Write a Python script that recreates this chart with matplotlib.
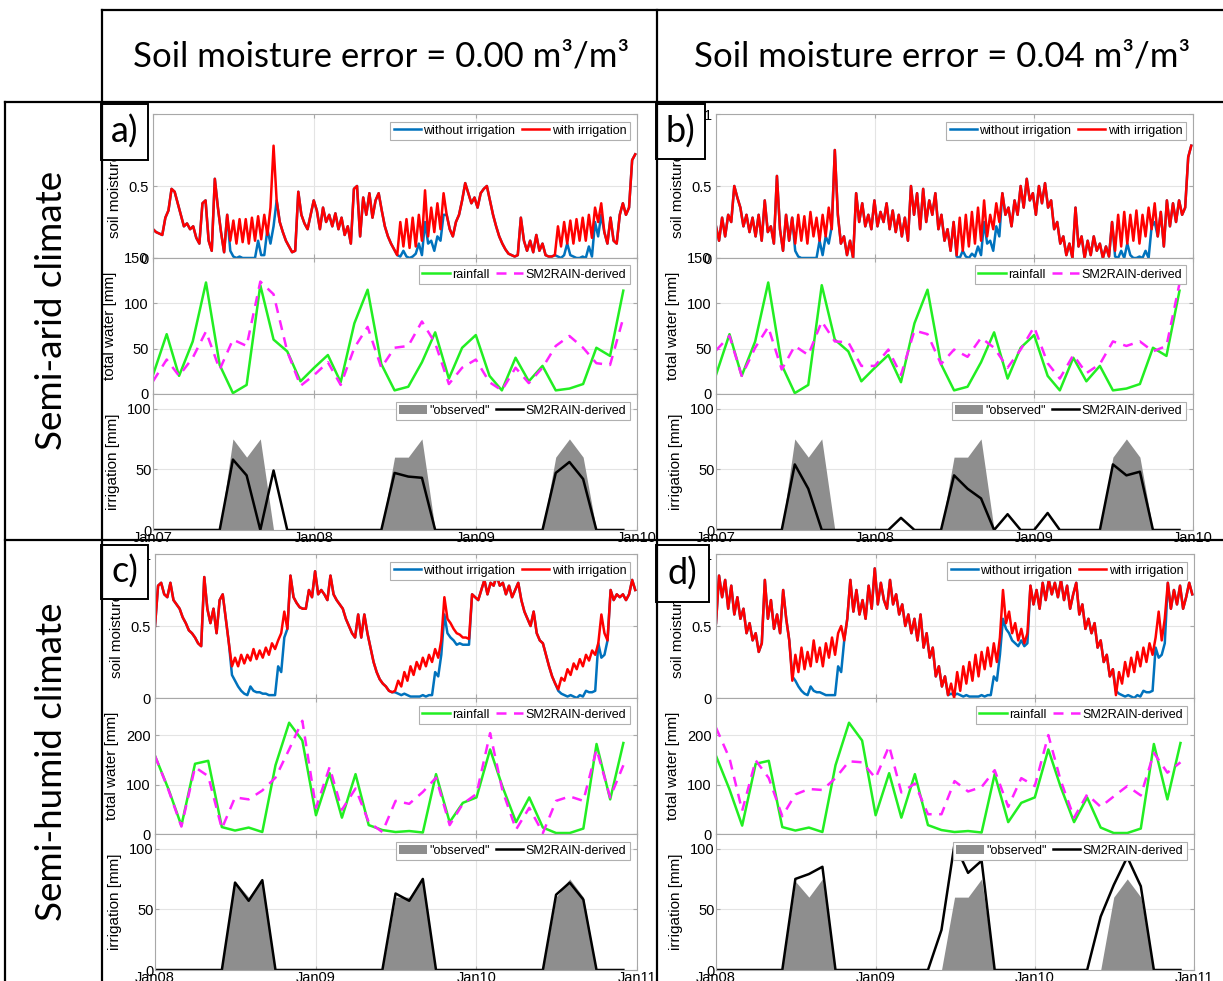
import matplotlib
matplotlib.use('Agg')
import matplotlib.pyplot as plt
import matplotlib.dates as mdates
from matplotlib.lines import Line2D
from matplotlib.patches import Patch, Rectangle
import numpy as np
import pandas as pd

plt.rcParams['font.family'] = ['Liberation Sans', 'DejaVu Sans']

W, H = 1223, 981

# time axes
weeks_arid = pd.date_range('2007-01-01', periods=157, freq='7D')
weeks_humid = pd.date_range('2008-01-01', periods=157, freq='7D')
months_arid = pd.date_range('2007-01-01', periods=36, freq='MS')
months_humid = pd.date_range('2008-01-01', periods=36, freq='MS')

col_titles = ['Soil moisture error = 0.00 m³/m³', 'Soil moisture error = 0.04 m³/m³']
row_titles = ['Semi-arid climate', 'Semi-humid climate']
panel_labels = ['a)', 'b)', 'c)', 'd)']

# soil moisture, weekly values
sm_a_with = np.array([
    0.20, 0.18, 0.17, 0.16, 0.28, 0.33, 0.48, 0.46, 0.38, 0.30, 0.22, 0.24, 0.20,
    0.22, 0.14, 0.10, 0.38, 0.40, 0.12, 0.05, 0.55, 0.35, 0.18, 0.04, 0.30, 0.12,
    0.26, 0.10, 0.27, 0.11, 0.27, 0.10, 0.28, 0.12, 0.29, 0.13, 0.30, 0.16, 0.35,
    0.78, 0.40, 0.25, 0.18, 0.12, 0.08, 0.04, 0.05, 0.46, 0.30, 0.24, 0.20, 0.30,
    0.40, 0.33, 0.20, 0.35, 0.25, 0.30, 0.22, 0.31, 0.20, 0.28, 0.16, 0.22, 0.10,
    0.48, 0.50, 0.15, 0.42, 0.30, 0.45, 0.28, 0.40, 0.45, 0.33, 0.22, 0.15, 0.10,
    0.06, 0.02, 0.25, 0.08, 0.27, 0.07, 0.28, 0.08, 0.30, 0.12, 0.47, 0.15, 0.35,
    0.18, 0.38, 0.20, 0.45, 0.30, 0.20, 0.15, 0.25, 0.30, 0.40, 0.52, 0.45, 0.38,
    0.42, 0.35, 0.45, 0.48, 0.50, 0.40, 0.30, 0.22, 0.15, 0.10, 0.06, 0.03, 0.02,
    0.01, 0.02, 0.28, 0.12, 0.05, 0.12, 0.04, 0.16, 0.05, 0.10, 0.02, 0.01, 0.01,
    0.02, 0.22, 0.08, 0.25, 0.10, 0.26, 0.10, 0.27, 0.12, 0.28, 0.12, 0.30, 0.14,
    0.35, 0.25, 0.38, 0.18, 0.10, 0.28, 0.12, 0.10, 0.30, 0.38, 0.30, 0.35, 0.68,
    0.72])
sm_a_without = sm_a_with.copy()
sm_a_without[25:40] = [0.05, 0.01, 0.00, 0.01, 0.00, 0.00, 0.00, 0.00, 0.00, 0.12,
                       0.02, 0.02, 0.20, 0.10, 0.22]
sm_a_without[79:95] = [0.02, 0.01, 0.05, 0.01, 0.00, 0.01, 0.03, 0.10, 0.02, 0.25,
                       0.10, 0.12, 0.05, 0.15, 0.12, 0.30]
sm_a_without[131:146] = [0.01, 0.00, 0.02, 0.10, 0.02, 0.01, 0.00, 0.00, 0.01, 0.00,
                         0.08, 0.01, 0.25, 0.15, 0.30]

sm_b_with = np.array([
    0.22, 0.12, 0.28, 0.15, 0.30, 0.25, 0.50, 0.42, 0.35, 0.22, 0.30, 0.18, 0.28,
    0.15, 0.30, 0.12, 0.40, 0.18, 0.22, 0.10, 0.57, 0.20, 0.05, 0.30, 0.12, 0.28,
    0.10, 0.30, 0.12, 0.29, 0.10, 0.32, 0.15, 0.28, 0.12, 0.30, 0.15, 0.35, 0.20,
    0.75, 0.30, 0.10, 0.15, 0.02, 0.12, 0.00, 0.45, 0.25, 0.38, 0.22, 0.30, 0.20,
    0.40, 0.22, 0.32, 0.25, 0.38, 0.20, 0.33, 0.18, 0.30, 0.15, 0.28, 0.12, 0.50,
    0.30, 0.45, 0.20, 0.48, 0.25, 0.40, 0.30, 0.45, 0.20, 0.30, 0.12, 0.20, 0.05,
    0.25, 0.02, 0.28, 0.05, 0.30, 0.08, 0.32, 0.10, 0.35, 0.12, 0.40, 0.15, 0.30,
    0.20, 0.38, 0.25, 0.45, 0.30, 0.35, 0.22, 0.40, 0.30, 0.50, 0.35, 0.55, 0.40,
    0.45, 0.30, 0.50, 0.38, 0.52, 0.35, 0.40, 0.20, 0.25, 0.10, 0.15, 0.02, 0.10,
    0.00, 0.35, 0.08, 0.15, 0.00, 0.12, 0.02, 0.15, 0.05, 0.10, 0.00, 0.08, 0.01,
    0.25, 0.05, 0.30, 0.08, 0.32, 0.10, 0.30, 0.12, 0.33, 0.10, 0.30, 0.15, 0.35,
    0.20, 0.38, 0.15, 0.32, 0.08, 0.40, 0.22, 0.38, 0.25, 0.40, 0.30, 0.35, 0.70,
    0.78])
sm_b_without = sm_b_with.copy()
sm_b_without[26:39] = [0.05, 0.01, 0.00, 0.00, 0.00, 0.00, 0.00, 0.00, 0.12, 0.02,
                       0.15, 0.10, 0.22]
sm_b_without[79:94] = [0.01, 0.00, 0.05, 0.01, 0.00, 0.03, 0.01, 0.08, 0.02, 0.25,
                       0.10, 0.12, 0.05, 0.22, 0.15]
sm_b_without[131:145] = [0.01, 0.00, 0.05, 0.00, 0.10, 0.02, 0.00, 0.00, 0.01, 0.00,
                         0.05, 0.00, 0.22, 0.25]

sm_c_with = np.array([
    0.50, 0.78, 0.80, 0.72, 0.70, 0.80, 0.68, 0.65, 0.62, 0.56, 0.52, 0.47, 0.45,
    0.42, 0.38, 0.36, 0.84, 0.62, 0.52, 0.62, 0.45, 0.68, 0.72, 0.55, 0.38, 0.22,
    0.28, 0.22, 0.30, 0.24, 0.30, 0.26, 0.34, 0.27, 0.33, 0.28, 0.35, 0.30, 0.38,
    0.34, 0.40, 0.45, 0.60, 0.48, 0.85, 0.70, 0.66, 0.63, 0.62, 0.62, 0.75, 0.70,
    0.88, 0.72, 0.75, 0.72, 0.68, 0.85, 0.72, 0.68, 0.65, 0.62, 0.55, 0.50, 0.45,
    0.42, 0.58, 0.42, 0.58, 0.45, 0.35, 0.25, 0.18, 0.13, 0.10, 0.08, 0.05, 0.04,
    0.05, 0.12, 0.08, 0.18, 0.12, 0.22, 0.16, 0.25, 0.20, 0.28, 0.22, 0.30, 0.25,
    0.34, 0.28, 0.40, 0.70, 0.55, 0.52, 0.48, 0.45, 0.44, 0.42, 0.42, 0.41, 0.72,
    0.70, 0.68, 0.75, 0.82, 0.72, 0.80, 0.78, 0.85, 0.78, 0.80, 0.72, 0.78, 0.70,
    0.75, 0.80, 0.68, 0.60, 0.55, 0.50, 0.60, 0.45, 0.40, 0.38, 0.30, 0.22, 0.15,
    0.10, 0.06, 0.14, 0.12, 0.20, 0.16, 0.24, 0.20, 0.27, 0.22, 0.30, 0.26, 0.33,
    0.30, 0.38, 0.58, 0.45, 0.40, 0.75, 0.68, 0.72, 0.70, 0.72, 0.68, 0.72, 0.82,
    0.75])
sm_c_without = sm_c_with.copy()
sm_c_without[25:43] = [0.16, 0.12, 0.08, 0.05, 0.03, 0.02, 0.08, 0.05, 0.04, 0.04,
                       0.03, 0.03, 0.02, 0.02, 0.02, 0.22, 0.18, 0.42]
sm_c_without[78:103] = [0.04, 0.03, 0.02, 0.03, 0.02, 0.01, 0.01, 0.01, 0.01, 0.02,
                        0.01, 0.02, 0.02, 0.18, 0.15, 0.30, 0.58, 0.45, 0.42, 0.40,
                        0.37, 0.38, 0.37, 0.37, 0.37]
sm_c_without[131:148] = [0.05, 0.03, 0.02, 0.01, 0.02, 0.01, 0.00, 0.02, 0.01, 0.05,
                         0.04, 0.04, 0.05, 0.38, 0.28, 0.30, 0.40]

sm_d_with = np.array([
    0.52, 0.85, 0.70, 0.82, 0.62, 0.78, 0.58, 0.70, 0.55, 0.62, 0.45, 0.52, 0.40,
    0.45, 0.32, 0.38, 0.82, 0.55, 0.68, 0.48, 0.58, 0.45, 0.75, 0.55, 0.40, 0.12,
    0.30, 0.18, 0.35, 0.20, 0.32, 0.22, 0.40, 0.25, 0.35, 0.22, 0.38, 0.28, 0.42,
    0.30, 0.45, 0.50, 0.40, 0.55, 0.82, 0.60, 0.75, 0.58, 0.68, 0.55, 0.78, 0.62,
    0.90, 0.65, 0.80, 0.68, 0.62, 0.82, 0.65, 0.72, 0.58, 0.65, 0.50, 0.58, 0.45,
    0.55, 0.40, 0.58, 0.35, 0.45, 0.28, 0.35, 0.15, 0.22, 0.08, 0.15, 0.02, 0.10,
    0.00, 0.18, 0.05, 0.22, 0.10, 0.25, 0.12, 0.30, 0.15, 0.32, 0.20, 0.35, 0.22,
    0.38, 0.25, 0.42, 0.75, 0.52, 0.60, 0.45, 0.52, 0.40, 0.48, 0.38, 0.45, 0.78,
    0.65, 0.75, 0.62, 0.80, 0.68, 0.82, 0.72, 0.80, 0.70, 0.82, 0.68, 0.78, 0.62,
    0.72, 0.80, 0.58, 0.65, 0.48, 0.55, 0.45, 0.52, 0.35, 0.40, 0.25, 0.30, 0.15,
    0.20, 0.02, 0.18, 0.10, 0.25, 0.15, 0.28, 0.18, 0.32, 0.22, 0.35, 0.25, 0.38,
    0.30, 0.42, 0.60, 0.40, 0.55, 0.80, 0.62, 0.75, 0.65, 0.78, 0.62, 0.70, 0.80,
    0.72])
sm_d_without = sm_d_with.copy()
sm_d_without[25:43] = [0.15, 0.12, 0.08, 0.05, 0.03, 0.02, 0.08, 0.05, 0.04, 0.04,
                       0.03, 0.02, 0.02, 0.02, 0.02, 0.22, 0.18, 0.40]
sm_d_without[77:103] = [0.03, 0.02, 0.03, 0.02, 0.01, 0.02, 0.01, 0.01, 0.01, 0.01,
                        0.02, 0.01, 0.02, 0.02, 0.15, 0.12, 0.30, 0.55, 0.48, 0.45,
                        0.40, 0.38, 0.36, 0.40, 0.36, 0.38]
sm_d_without[131:148] = [0.05, 0.03, 0.02, 0.01, 0.02, 0.01, 0.00, 0.02, 0.01, 0.05,
                         0.04, 0.04, 0.05, 0.35, 0.28, 0.30, 0.38]

# monthly total water [mm]
rain_arid = [21, 66, 20, 58, 123, 32, 1, 10, 120, 60, 47, 14,
             29, 43, 13, 78, 115, 33, 4, 8, 35, 68, 17, 51,
             65, 20, 4, 40, 14, 31, 4, 6, 11, 51, 42, 114]
sm2rain_a = [14, 38, 20, 40, 69, 27, 60, 53, 124, 110, 47, 9,
             21, 35, 10, 51, 74, 29, 51, 53, 80, 56, 11, 29,
             38, 13, 4, 29, 12, 29, 53, 64, 51, 34, 32, 84]
sm2rain_b = [48, 64, 20, 51, 74, 27, 53, 43, 80, 58, 57, 31,
             31, 49, 21, 70, 66, 33, 49, 41, 62, 51, 29, 49,
             74, 34, 17, 43, 23, 33, 58, 53, 58, 47, 53, 122]
rain_humid = [158, 90, 17, 142, 148, 14, 7, 13, 4, 139, 225, 189,
              38, 123, 33, 121, 18, 8, 4, 6, 3, 121, 24, 63,
              74, 171, 96, 24, 74, 13, 2, 2, 11, 182, 70, 184]
sm2rain_c = [158, 88, 15, 135, 117, 11, 74, 70, 88, 114, 171, 229,
             53, 135, 49, 92, 24, 4, 67, 61, 85, 114, 18, 61,
             81, 204, 88, 9, 53, 2, 67, 76, 67, 171, 74, 139]
sm2rain_d = [215, 153, 47, 149, 113, 36, 80, 91, 89, 113, 147, 145,
             113, 178, 84, 102, 40, 40, 107, 86, 95, 129, 55, 113,
             97, 200, 109, 33, 80, 55, 76, 97, 78, 164, 124, 145]

# monthly irrigation [mm]
irr_obs_arid = [0, 0, 0, 0, 0, 0, 75, 60, 75, 0, 0, 0,
                0, 0, 0, 0, 0, 0, 60, 60, 75, 0, 0, 0,
                0, 0, 0, 0, 0, 0, 60, 75, 60, 0, 0, 0]
irr_est_a = [0, 0, 0, 0, 0, 0, 58, 45, 0, 49, 0, 0,
             0, 0, 0, 0, 0, 0, 47, 44, 43, 0, 0, 0,
             0, 0, 0, 0, 0, 0, 47, 56, 42, 0, 0, 0]
irr_est_b = [0, 0, 0, 0, 0, 0, 54, 34, 0, 0, 0, 0,
             0, 0, 10, 0, 0, 0, 45, 34, 26, 0, 13, 0,
             0, 14, 0, 0, 0, 0, 54, 45, 48, 0, 0, 0]
irr_obs_humid = [0, 0, 0, 0, 0, 0, 73, 60, 75, 0, 0, 0,
                 0, 0, 0, 0, 0, 0, 60, 60, 75, 0, 0, 0,
                 0, 0, 0, 0, 0, 0, 60, 75, 60, 0, 0, 0]
irr_est_c = [0, 0, 0, 0, 0, 0, 72, 57, 74, 0, 0, 0,
             0, 0, 0, 0, 0, 0, 63, 57, 75, 0, 0, 0,
             0, 0, 0, 0, 0, 0, 62, 72, 58, 0, 0, 0]
irr_est_d = [0, 0, 0, 0, 0, 0, 75, 79, 85, 0, 0, 0,
             0, 0, 0, 0, 0, 33, 104, 80, 90, 0, 0, 0,
             0, 0, 0, 0, 0, 44, 70, 93, 69, 0, 0, 0]

C_BLUE = '#0072bd'
C_RED = '#ff0000'
C_GREEN = '#22ee22'
C_MAG = '#ff22ff'
C_GRAY = '#8e8e8e'
C_FRAME = '#a8a8a8'
HEAD_FONT = ['Lato', 'DejaVu Sans']
LW = 1.8

fig = plt.figure(figsize=(W / 100, H / 100), dpi=100)


def px_box(x0, y0, x1, y1):
    return [x0 / W, 1 - y1 / H, (x1 - x0) / W, (y1 - y0) / H]


def style_axis(ax, year0):
    ax.set_xlim(pd.Timestamp(f'{year0}-01-01'), pd.Timestamp(f'{year0 + 3}-01-01'))
    ax.xaxis.set_major_locator(mdates.YearLocator())
    ax.xaxis.set_major_formatter(mdates.DateFormatter('%b%y'))
    ax.grid(True, color='#e4e4e4', lw=0.8)
    ax.set_axisbelow(True)
    for sp in ax.spines.values():
        sp.set_color(C_FRAME)
        sp.set_linewidth(0.8)
    ax.tick_params(direction='in', length=3, color=C_FRAME, labelsize=10.5, pad=3,
                   top=True, right=True, labelbottom=False)


def add_legend(ax, handles, labels):
    leg = ax.legend(handles, labels, loc='upper right', ncol=2, fontsize=9,
                    frameon=True, fancybox=False, edgecolor='#b0b0b0', framealpha=1,
                    borderpad=0.25, handlelength=2.2, handletextpad=0.2,
                    columnspacing=0.5, borderaxespad=0.6)
    leg.get_frame().set_linewidth(0.8)


def draw_panel(x0, x1, y0, year0, weeks, sm_without, sm_with, months, rain, sm2rain,
               tw_top, tw_ticks, irr_obs, irr_est):
    ax1 = fig.add_axes(px_box(x0, y0, x1, y0 + 144))
    ax2 = fig.add_axes(px_box(x0, y0 + 144, x1, y0 + 280))
    ax3 = fig.add_axes(px_box(x0, y0 + 280, x1, y0 + 416))

    # soil moisture
    ax1.plot(weeks, sm_without, color=C_BLUE, lw=LW)
    ax1.plot(weeks, sm_with, color=C_RED, lw=LW)
    style_axis(ax1, year0)
    ax1.set_ylim(0, 1)
    ax1.set_yticks([0, 0.5, 1])
    ax1.set_yticklabels(['0', '0.5', '1'])
    ax1.set_ylabel('soil moisture [-]', fontsize=11, labelpad=5)
    add_legend(ax1, [Line2D([], [], color=C_BLUE, lw=LW), Line2D([], [], color=C_RED, lw=LW)],
               ['without irrigation', 'with irrigation'])

    # total water
    ax2.plot(months, rain, color=C_GREEN, lw=LW)
    ax2.plot(months, sm2rain, color=C_MAG, lw=LW, dashes=(4, 3))
    style_axis(ax2, year0)
    ax2.set_ylim(0, tw_top)
    ax2.set_yticks(tw_ticks)
    ax2.set_ylabel('total water [mm]', fontsize=11, labelpad=5)
    add_legend(ax2, [Line2D([], [], color=C_GREEN, lw=LW),
                     Line2D([], [], color=C_MAG, lw=LW, dashes=(4, 3))],
               ['rainfall', 'SM2RAIN-derived'])

    # irrigation
    ax3.fill_between(months, irr_obs, color=C_GRAY, lw=0)
    ax3.plot(months, irr_est, color='k', lw=LW)
    style_axis(ax3, year0)
    ax3.tick_params(labelbottom=True, pad=1)
    ax3.set_ylim(0, 112)
    ax3.set_yticks([0, 50, 100])
    ax3.set_ylabel('irrigation [mm]', fontsize=11, labelpad=5)
    add_legend(ax3, [Patch(facecolor=C_GRAY, edgecolor='none'), Line2D([], [], color='k', lw=LW)],
               ['"observed"', 'SM2RAIN-derived'])


draw_panel(153, 637, 114, 2007, weeks_arid, sm_a_without, sm_a_with, months_arid,
           rain_arid, sm2rain_a, 150, [0, 50, 100, 150], irr_obs_arid, irr_est_a)
draw_panel(716, 1193, 114, 2007, weeks_arid, sm_b_without, sm_b_with, months_arid,
           rain_arid, sm2rain_b, 150, [0, 50, 100, 150], irr_obs_arid, irr_est_b)
draw_panel(155, 637, 554, 2008, weeks_humid, sm_c_without, sm_c_with, months_humid,
           rain_humid, sm2rain_c, 275, [0, 100, 200], irr_obs_humid, irr_est_c)
draw_panel(716, 1194, 554, 2008, weeks_humid, sm_d_without, sm_d_with, months_humid,
           rain_humid, sm2rain_d, 275, [0, 100, 200], irr_obs_humid, irr_est_d)


# table grid
def hline(y, x0, x1):
    fig.add_artist(Line2D([x0 / W, x1 / W], [1 - y / H, 1 - y / H], transform=fig.transFigure,
                          color='k', lw=1.6, zorder=5))


def vline(x, y0, y1):
    fig.add_artist(Line2D([x / W, x / W], [1 - y0 / H, 1 - y1 / H], transform=fig.transFigure,
                          color='k', lw=1.6, zorder=5))


hline(10, 102, W)
hline(102, 5, W)
hline(540, 5, W)
vline(102, 10, H)
vline(657, 10, H)
vline(5, 102, H)

# column and row titles
fig.text(381 / W, 1 - 57 / H, col_titles[0], fontsize=25, family=HEAD_FONT, ha='center', va='center')
fig.text(942 / W, 1 - 57 / H, col_titles[1], fontsize=25, family=HEAD_FONT, ha='center', va='center')
fig.text(52 / W, 1 - 310 / H, row_titles[0], fontsize=26.5, family=HEAD_FONT, rotation=90,
         ha='center', va='center')
fig.text(52 / W, 1 - 762 / H, row_titles[1], fontsize=26.5, family=HEAD_FONT, rotation=90,
         ha='center', va='center')

# panel letters in small boxes
label_boxes = [(101, 104, 148, 160), (656, 104, 705, 159), (101, 545, 148, 599), (656, 545, 709, 602)]
for (bx0, by0, bx1, by1), lab in zip(label_boxes, panel_labels):
    fig.add_artist(Rectangle((bx0 / W, 1 - by1 / H), (bx1 - bx0) / W, (by1 - by0) / H,
                             transform=fig.transFigure, facecolor='white', edgecolor='k',
                             lw=1.4, zorder=4))
    fig.text((bx0 + bx1) / 2 / W, 1 - (by0 + by1) / 2 / H, lab, fontsize=26, family=HEAD_FONT,
             ha='center', va='center', zorder=6)

fig.savefig('out.png', dpi=100)
